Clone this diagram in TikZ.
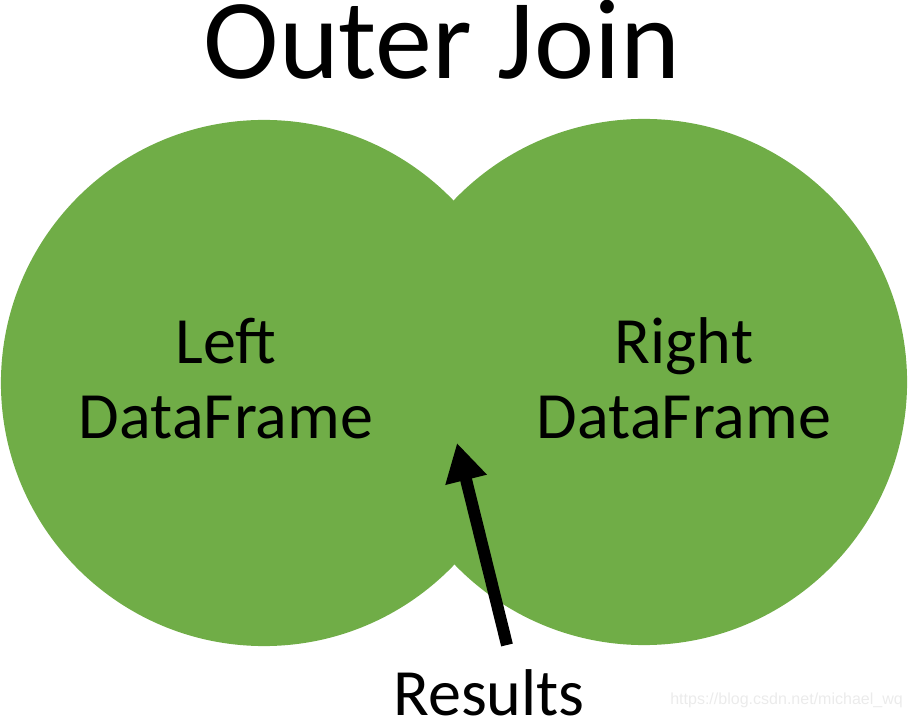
\documentclass[tikz,border=0pt]{standalone}
\usepackage{fontspec}
\setmainfont{Carlito}
\newfontfamily\wmfont{Liberation Sans}
\usetikzlibrary{arrows.meta}
\definecolor{setgreen}{HTML}{70AD47}

\begin{document}
\begin{tikzpicture}[x=0.025cm,y=-0.025cm]
\tikzstyle{set}=[circle,fill=setgreen,minimum size=13.15cm,inner sep=0pt]
\tikzstyle{lbl}=[align=center,anchor=base,inner sep=0pt,font=\fontsize{47}{54}\selectfont]
\tikzstyle{op}=[-{Triangle[length=27pt,width=28.5pt]},line width=8.5pt]
\useasboundingbox (0,0) rectangle (908,720);
\node (1) at (264,383) [set]{};
\node (2) at (644,382) [set]{};
\node (3) at (442,79) [anchor=base,inner sep=0pt,font=\fontsize{81}{90}\selectfont]{Outer Join};
\node (4) at (226,439) [lbl]{Left\\DataFrame};
\node (5) at (684,439) [lbl]{Right\\DataFrame};
\node (6) at (489,715) [lbl]{Results};
\node (7) at (670,704) [anchor=base west,inner sep=0pt,text=black!8,font=\wmfont\fontsize{11.4}{13}\selectfont]{https://blog.csdn.net/michael\_wq};
\coordinate (8) at (507,645);
\coordinate (9) at (457,443);
\draw[op] (8) -- (9);
\end{tikzpicture}
\end{document}
